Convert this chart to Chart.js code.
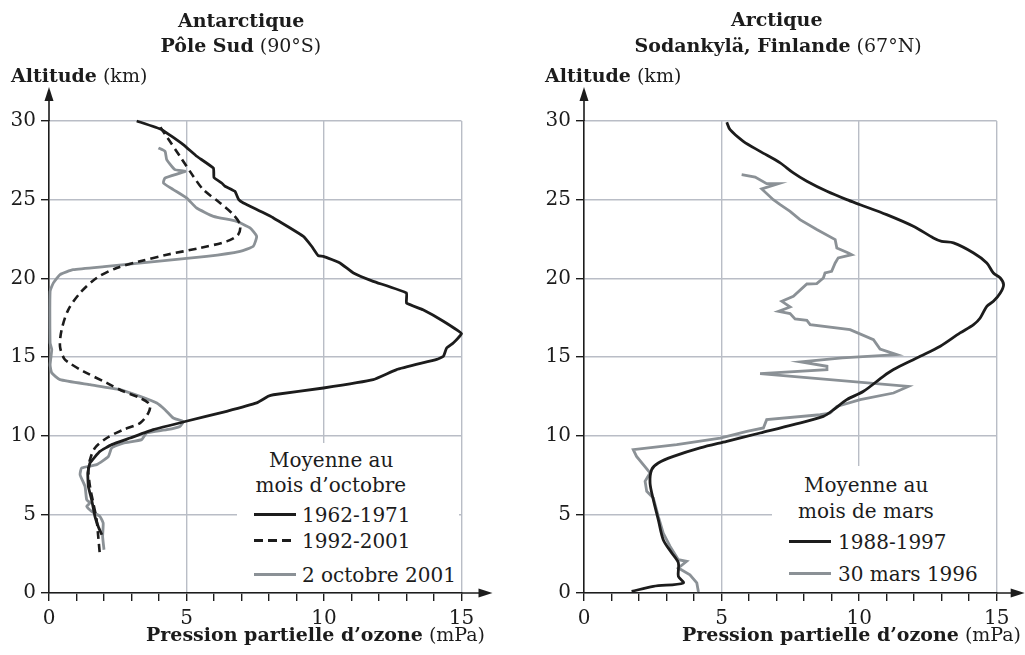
<!DOCTYPE html>
<html lang="fr">
<head>
<meta charset="utf-8">
<script src="https://cdn.jsdelivr.net/npm/chart.js@4.4.0/dist/chart.umd.min.js"></script>
<style>
  html, body { margin: 0; padding: 0; background: #fff; }
  #page { position: relative; width: 1025px; height: 655px; overflow: hidden; font-family: "DejaVu Serif", serif; color: #1c1c1c; }
  .cv { position: absolute; top: 0; height: 655px; }
  .t { position: absolute; white-space: nowrap; line-height: 1; }
  .b { font-weight: bold; }
  .leg { position: absolute; background: #fff; }
  .sample { position: absolute; height: 0; }
</style>
</head>
<body>
<div id="page">
  <div class="cv" style="left:0;width:512px"><canvas id="c1" width="512" height="655"></canvas></div>
  <div class="cv" style="left:512px;width:513px"><canvas id="c2" width="513" height="655"></canvas></div>
</div>
<script>
// ---------- DATA ----------
const xTicks = [0, 5, 10, 15];
const yTicks = [0, 5, 10, 15, 20, 25, 30];

// Antarctique – Pôle Sud (90°S)
const ant6271_p = [3.19,4.1,4.88,5.37,5.98,6.0,6.28,6.4,6.76,6.9,7.07,8.16,9.25,9.55,9.79,9.98,10.58,11.07,11.79,13.0,13.0,13.6,14.34,15.0,14.7,14.46,14.34,14.1,12.64,11.79,9.98,8.16,7.97,7.55,6.46,4.95,3.79,2.95,2.28,1.85,1.49,1.41,1.43,1.55,1.67,1.79,1.92];
const ant6271_z = [30,29.45,28.5,27.76,27.0,26.4,26.06,25.85,25.53,25.0,24.79,23.84,22.67,22.04,21.44,21.4,20.98,20.34,19.81,19.07,18.43,18.0,17.27,16.48,15.89,15.57,15.04,14.85,14.2,13.56,13.03,12.6,12.5,12.08,11.55,10.9,10.38,9.85,9.43,9.0,8.26,7.63,6.78,5.93,4.87,4.23,3.7];

const ant9201_p = [4.05,4.32,4.76,5.25,5.61,6.22,6.7,6.95,6.88,6.46,5.49,4.28,3.31,2.46,1.73,1.13,0.7,0.46,0.4,0.55,0.76,1.25,2.1,2.7,3.31,3.67,3.61,3.31,2.7,2.1,1.67,1.49,1.43,1.49,1.61,1.73,1.79,1.85];
const ant9201_z = [29.6,28.9,27.76,26.48,25.64,24.79,24.05,23.41,22.78,22.35,21.93,21.5,21.08,20.66,20.02,19.07,18.0,16.74,15.68,14.9,14.6,14.09,13.35,12.82,12.4,11.97,11.44,10.8,10.38,9.85,9.22,8.47,7.84,6.78,5.72,4.66,3.6,2.43];

const ant2oct_p = [3.98,4.22,4.28,4.58,4.95,4.22,4.16,4.52,5.0,5.37,5.98,6.82,7.31,7.55,7.43,6.95,5.73,3.92,2.1,0.88,0.4,0.16,0.04,0.04,0.1,0.04,0.1,0.4,1.49,2.58,3.31,3.92,4.22,4.52,4.88,4.76,4.28,3.55,3.37,2.7,2.28,2.16,1.73,1.19,1.13,1.31,1.37,1.49,1.37,1.55,1.85,1.97,1.95,2.0];
const ant2oct_z = [28.29,28.07,27.55,26.91,26.8,26.38,26.06,25.64,25.11,24.47,23.94,23.62,23.2,22.67,22.04,21.72,21.4,21.08,20.76,20.55,20.24,19.71,19.17,15.9,15.47,14.5,13.99,13.56,13.24,12.93,12.5,12.08,11.65,11.12,10.9,10.59,10.38,10.17,9.75,9.53,9.22,8.68,8.16,7.95,7.52,6.78,5.93,5.72,5.51,5.19,4.87,4.45,3.6,2.75];

// Arctique – Sodankylä, Finlande (67°N)
const arc8897_p = [5.19,5.31,5.79,6.4,7.13,7.61,8.1,8.83,9.55,10.04,11.0,11.97,12.7,13.0,13.43,14.16,14.64,14.88,15.13,15.25,15.13,14.88,14.64,14.4,14.16,13.67,12.95,12.22,11.97,11.25,10.88,10.16,9.55,9.07,8.7,7.61,6.4,5.19,4.22,3.25,2.7,2.46,2.4,2.52,2.7,2.88,3.19,3.43,3.43,3.61,2.52,1.73];
const arc8897_z = [29.92,29.45,28.71,28.07,27.34,26.7,26.17,25.53,25.0,24.68,24.05,23.31,22.57,22.35,22.25,21.61,20.98,20.34,20.02,19.6,19.07,18.54,18.22,17.48,17.06,16.53,15.68,15.04,14.83,14.2,13.77,12.82,12.29,11.65,11.23,10.7,10.17,9.64,9.22,8.68,8.26,7.84,6.99,5.93,4.66,3.39,2.54,1.91,1.06,0.64,0.42,0.1];

const arc30m_p = [5.73,6.22,6.64,7.07,6.46,6.88,7.13,7.49,7.85,8.46,9.13,9.19,9.61,9.73,9.24,9.13,9.0,8.76,8.7,8.46,8.1,7.61,7.19,7.49,7.07,7.49,7.67,8.1,8.22,9.67,10.52,10.76,11.37,9.39,7.88,8.83,8.83,6.4,11.79,11.25,10.04,9.19,8.95,8.58,6.64,6.52,5.92,4.95,3.37,1.79,1.91,2.4,2.22,2.28,2.52,2.7,2.88,3.13,3.43,3.73,3.43,3.85,4.1,4.16];
const arc30m_z = [26.59,26.44,26.02,26.02,25.68,25.0,24.68,24.26,23.73,23.1,22.46,21.93,21.61,21.5,21.3,20.98,20.45,20.34,20.02,19.66,19.64,18.86,18.54,18.18,17.9,17.76,17.42,17.33,17.06,16.74,16.1,15.51,15.15,14.94,14.69,14.41,14.2,13.94,13.13,12.71,12.29,11.86,11.44,11.33,11.02,10.49,10.27,9.85,9.43,9.11,8.68,7.63,7.1,6.46,6.04,4.87,3.81,2.96,2.12,2.01,1.59,1.16,0.64,0.06];

const labelsLeft  = ['1962-1971', '1992-2001', '2 octobre 2001'];
const labelsRight = ['1988-1997', '30 mars 1996'];

// ---------- STYLE ----------
const BLACK = '#1c1c1c';
const GRAY = '#8b9196';
const GRID = '#b9bdc6';
const FONT = '"DejaVu Serif", serif';

function pts(px, pz) { return px.map((v, i) => ({ x: v, y: pz[i] })); }

const arrowPlugin = {
  id: 'arrows',
  afterDraw(chart, args, opts) {
    const { ctx, chartArea: a } = chart;
    ctx.save();
    ctx.strokeStyle = BLACK; ctx.fillStyle = BLACK; ctx.lineWidth = 1.6;
    ctx.beginPath();
    ctx.moveTo(a.left, a.top); ctx.lineTo(a.left, 98);
    ctx.moveTo(a.right, a.bottom); ctx.lineTo(a.right + opts.xTip - 10, a.bottom);
    ctx.stroke();
    ctx.beginPath();
    ctx.moveTo(a.left, 87); ctx.lineTo(a.left - 4.5, 101); ctx.lineTo(a.left + 4.5, 101); ctx.closePath();
    ctx.fill();
    const tx = a.right + opts.xTip;
    ctx.beginPath();
    ctx.moveTo(tx, a.bottom); ctx.lineTo(tx - 14, a.bottom - 4.5); ctx.lineTo(tx - 14, a.bottom + 4.5); ctx.closePath();
    ctx.fill();
    ctx.restore();
  }
};

function makeChart(id, datasets, padRight, yWidth, xTip) {
  return new Chart(document.getElementById(id), {
    type: 'scatter',
    data: { datasets },
    plugins: [arrowPlugin],
    options: {
      responsive: false,
      animation: false,
      events: [],
      layout: { padding: { left: 0, right: padRight, top: 121, bottom: 20 } },
      plugins: { legend: { display: false }, tooltip: { enabled: false }, arrows: { xTip } },
      elements: { point: { radius: 0 } },
      scales: {
        x: {
          type: 'linear', min: 0, max: 15,
          afterFit(s) { s.height = 42; },
          afterBuildTicks(s) { s.ticks = Array.from({ length: 16 }, (_, i) => ({ value: i })); },
          ticks: {
            autoSkip: false, maxRotation: 0, padding: 6, color: BLACK,
            font: { family: FONT, size: 20 },
            callback: v => (xTicks.includes(v) ? String(v) : '')
          },
          grid: {
            color: c => (c.tick && c.tick.value % 5 === 0 && c.tick.value !== 0 ? GRID : 'rgba(0,0,0,0)'),
            lineWidth: 1.4, tickColor: BLACK, tickLength: 8, tickWidth: 1.4
          },
          border: { color: BLACK, width: 1.6 }
        },
        y: {
          type: 'linear', min: 0, max: 30,
          afterFit(s) { s.width = yWidth; },
          afterBuildTicks(s) { s.ticks = yTicks.map(v => ({ value: v })); },
          ticks: { padding: 5, color: BLACK, font: { family: FONT, size: 20 } },
          grid: { color: GRID, lineWidth: 1.4, tickColor: BLACK, tickLength: 8, tickWidth: 1.4 },
          border: { color: BLACK, width: 1.6 }
        }
      }
    }
  });
}

const leftSets = [
  { label: labelsLeft[0], data: pts(ant6271_p, ant6271_z), borderColor: BLACK, borderWidth: 2.8, showLine: true, clip: false, tension: 0.1, order: 1 },
  { label: labelsLeft[1], data: pts(ant9201_p, ant9201_z), borderColor: BLACK, borderWidth: 2.6, borderDash: [8, 5], showLine: true, clip: false, tension: 0.3, order: 2 },
  { label: labelsLeft[2], data: pts(ant2oct_p, ant2oct_z), borderColor: GRAY, borderWidth: 2.8, showLine: true, clip: false, tension: 0.15, order: 3 }
];
const rightSets = [
  { label: labelsRight[0], data: pts(arc8897_p, arc8897_z), borderColor: BLACK, borderWidth: 2.8, showLine: true, clip: false, tension: 0.3, order: 1 },
  { label: labelsRight[1], data: pts(arc30m_p, arc30m_z), borderColor: GRAY, borderWidth: 2.8, showLine: true, clip: false, tension: 0, order: 2 }
];

makeChart('c1', leftSets, 50.5, 49, 31);
makeChart('c2', rightSets, 28.3, 72, 28);

// ---------- TEXT & LEGENDS (HTML) ----------
const page = document.getElementById('page');
function txt(html, x, baseline, size, align, cls) {
  const d = document.createElement('div');
  d.className = 't' + (cls ? ' ' + cls : '');
  d.style.fontSize = size + 'px';
  d.innerHTML = html;
  d.style.top = (baseline - 0.846 * size) + 'px';
  page.appendChild(d);
  if (align === 'center') d.style.left = (x - d.offsetWidth / 2) + 'px';
  else if (align === 'right') d.style.left = (x - d.offsetWidth) + 'px';
  else d.style.left = x + 'px';
  return d;
}
function box(x, y, w, h) {
  const d = document.createElement('div');
  d.className = 'leg';
  Object.assign(d.style, { left: x + 'px', top: y + 'px', width: w + 'px', height: h + 'px' });
  page.appendChild(d);
}
function sample(x1, x2, y, ds) {
  const d = document.createElement('div');
  d.className = 'sample';
  const dashed = !!ds.borderDash;
  Object.assign(d.style, { left: x1 + 'px', top: (y - 1.5) + 'px', width: (x2 - x1) + 'px' });
  if (dashed) {
    d.style.height = '3px';
    d.style.background = 'repeating-linear-gradient(90deg,' + ds.borderColor + ' 0 9px, transparent 9px 14px)';
  } else {
    d.style.borderTop = '3px solid ' + ds.borderColor;
  }
  page.appendChild(d);
}

// Titles
txt('<b>Antarctique</b>', 241, 27, 19, 'center');
txt('<b>Pôle Sud</b> (90°S)', 241, 52, 19, 'center');
txt('<b>Arctique</b>', 777, 26, 19, 'center');
txt('<b>Sodankylä, Finlande</b> (67°N)', 778, 52, 19, 'center');
// Axis titles
txt('<b>Altitude</b> (km)', 11, 82, 19, 'left');
txt('<b>Altitude</b> (km)', 545, 82, 19, 'left');
txt('<b>Pression partielle d’ozone</b> (mPa)', 146, 641, 19, 'left');
txt('<b>Pression partielle d’ozone</b> (mPa)', 682, 641, 19, 'left');

// Left legend
box(237, 443, 222, 149);
txt('Moyenne au', 331, 467, 20, 'center');
txt('mois d’octobre', 331, 492, 20, 'center');
[514, 540, 574].forEach((y, i) => {
  sample(254, 296, y, leftSets[i]);
  txt(labelsLeft[i], 302, y + 8, 20, 'left');
});
// Right legend
box(772, 466, 224, 126);
txt('Moyenne au', 866, 492, 20, 'center');
txt('mois de mars', 866, 518, 20, 'center');
[541, 573].forEach((y, i) => {
  sample(789, 831, y, rightSets[i]);
  txt(labelsRight[i], 838, y + 8, 20, 'left');
});
</script>
</body>
</html>
